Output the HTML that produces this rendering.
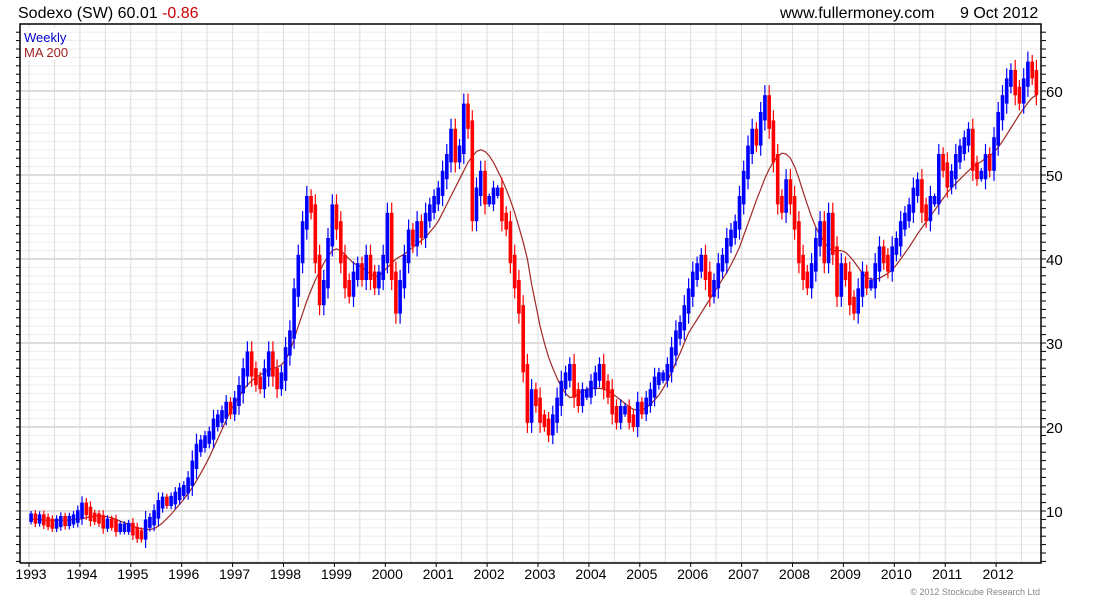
<!DOCTYPE html>
<html><head><meta charset="utf-8"><style>
body{margin:0;background:#fff;width:1100px;height:600px;overflow:hidden;font-family:"Liberation Sans",sans-serif}
svg{display:block}
</style></head><body>
<svg id="chart" width="1100" height="600">
<text x="18" y="18" font-size="16" fill="#000">Sodexo (SW) 60.01 <tspan fill="#d00000">-0.86</tspan></text>
<text x="780" y="18" font-size="16" fill="#000">www.fullermoney.com</text>
<text x="960" y="18" font-size="16" fill="#000">9 Oct 2012</text>
<text x="1040" y="595" font-size="9" fill="#888" text-anchor="end">© 2012 Stockcube Research Ltd</text>
<g id="grid"></g>
<g id="ma"></g>
<g id="bars"></g>
<g id="axes"></g>
<rect x="22" y="28" width="44" height="32" fill="#fff"/>
<text x="24" y="42" font-size="13" fill="#0000d0">Weekly</text>
<text x="24" y="57" font-size="13" fill="#a02020">MA 200</text>
</svg>
<script>
const closes = [
9.2,9.0,9.1,8.8,8.6,8.4,8.6,8.9,8.7,8.9,9.1,9.6,
10.5,10.0,9.3,9.2,9.0,8.4,8.6,8.5,8.0,8.0,8.0,8.1,
7.6,7.2,7.1,8.5,8.8,9.6,10.8,11.2,11.1,11.3,11.8,12.3,
12.6,13.5,15.5,17.5,18.0,18.5,19.0,20.5,21.0,21.5,22.5,22.0,
23,24.5,26.5,28.5,26.5,25.5,25,26.5,28.5,26.5,25,26,
29,31,36,40,44,47,46,40,35,37,42,46,
44,40,37,36,38,39,38,40,38,37,38,40,
45,38,34,37,40,43,42,44,43,45,46,47,
48,50,52,55,52,53,58,56,45,48,50,47,
47,48,48,45,44,40,37,34,27,21,24,23,
21,20.5,19.5,21,23,25,26,27,24,23,24,24,
25,26,27,25,24,22,21,22,22,21,20.5,22.5,
22,23,24,25.5,26,26,27,29,31,32,34,36,
38,39,40,38,36,37,39,40,42,43,44,47,
50,53,55,54,57,59,56,52,47,46,49,47,
44,40,38,37,39,42,44,40,45,41,36,39,
38,35,34,36,38,37,37,39,41,40,39,41,
42,44,45,46,48,49,46,45,47,47,52,51,
49,50,52,53,54,55,51,50,50,52,51,54,
57,59,61,62,60,59,61,63,62,60.01
];
const ma200 = [
9.0,9.0,9.0,8.9,8.9,8.9,8.9,8.9,8.9,8.9,9.0,9.0,
9.1,9.2,9.3,9.4,9.4,9.4,9.3,9.2,9.0,8.8,8.6,8.4,
8.2,8.0,7.9,7.8,7.8,7.9,8.2,8.6,9.1,9.6,10.2,10.8,
11.4,12.1,12.8,13.6,14.5,15.4,16.4,17.5,18.6,19.7,20.8,21.9,
22.8,23.6,24.4,25.0,25.5,25.9,26.2,26.5,26.8,27.0,27.1,27.4,
28.0,29.0,30.5,32.0,33.5,35.0,36.3,37.5,38.5,39.5,40.3,41.0,
41.2,41.0,40.5,40.0,39.5,39.3,39.0,38.6,38.2,37.9,38.0,38.5,
39,39.5,40,40.3,40.6,41,41.4,41.8,42.2,42.6,43.2,43.8,
44.5,45.5,46.5,47.5,48.5,49.5,50.5,51.5,52.2,52.8,53,52.8,
52.3,51.5,50.5,49.5,48.3,47,45.5,43.8,42,40,37,34.5,
32,30,28.3,27,25.8,24.8,24,23.5,23.6,24,24.3,24.5,
24.6,24.6,24.6,24.5,24.3,24,23.6,23.2,22.8,22.4,22.1,22,
22,22.3,22.7,23.2,23.8,24.6,25.5,26.5,27.7,28.8,30,31.2,
32.0,32.8,33.6,34.4,35.2,36.0,36.8,37.6,38.4,39.3,40.3,41.4,
42.8,44.2,45.6,47,48.3,49.6,50.7,51.6,52.2,52.6,52.5,52,
51,49.6,48,46.5,45,43.8,42.8,42,41.3,41,41,41,
40.8,40.3,39.7,39,38.3,37.8,37.6,37.6,37.7,38,38.3,38.7,
39.3,40,40.7,41.4,42.2,43,43.7,44.4,45.1,45.8,46.5,47.2,
47.9,48.5,49,49.5,50,50.5,51,51.3,51.6,52,52.3,52.7,
53.3,54,54.8,55.6,56.4,57.2,57.9,58.6,59.2,59.5
];
const yearLabels = ["1993","1994","1995","1996","1997","1998","1999","2000","2001","2002","2003","2004","2005","2006","2007","2008","2009","2010","2011","2012"];
const yTickLabels = [10,20,30,40,50,60];

const L=20,R=1041,T=24,B=563;
const NS="http://www.w3.org/2000/svg";
function xOf(t){return 29+(t-1993)*50.9;}
function xMonth(i){return xOf(1993+(i+0.5)/12);}
function yOf(v){return 511-(v-10)*8.4;}
function mk(tag,attrs,parent){const e=document.createElementNS(NS,tag);for(const k in attrs)e.setAttribute(k,attrs[k]);parent.appendChild(e);return e;}

const grid=document.getElementById('grid');
for(let v=4;v<=68;v++){
  const y=yOf(v); if(y<T||y>B) continue;
  const l=mk('line',{x1:L,x2:R,y1:y,y2:y,stroke:(v%10===0)?'#bbbbbb':'#eeeeee','stroke-width':1},grid);
  
  
}
for(let h=0;h<40;h++){
  const x=xOf(1993+h/2); if(x>R) break;
  const l=mk('line',{x1:x,x2:x,y1:T,y2:B,stroke:'#dddddd','stroke-width':1},grid);
  
  
}

const maG=document.getElementById('ma');
let d='';
ma200.forEach((v,i)=>{d+=(i?'L':'M')+xMonth(i).toFixed(1)+' '+yOf(v).toFixed(1);});
const maPath=mk('path',{d:d,fill:'none',stroke:'#a02828','stroke-width':1.2},maG);



const barsG=document.getElementById('bars');
const pad=0.5;
closes.forEach((c,i)=>{
  const prev=i?closes[i-1]:c;
  const hi=Math.max(prev,c)+pad, lo=Math.min(prev,c)-pad;
  const x=xMonth(i);
  const col=c>=prev?'#0000ff':'#ff0000';
  const ext=Math.min(1.2,Math.abs(c-prev)*0.5+0.3);
  const w=mk('line',{x1:x.toFixed(1),x2:x.toFixed(1),y1:yOf(hi+ext).toFixed(1),y2:yOf(lo-ext).toFixed(1),stroke:col,'stroke-width':1.2},barsG);
  
  
  const r=mk('rect',{x:(x-1.8).toFixed(1),y:yOf(hi).toFixed(1),width:3.6,height:(yOf(lo)-yOf(hi)).toFixed(1),fill:col},barsG);
  
  
});

const ax=document.getElementById('axes');
const frame=mk('path',{d:`M${L} ${B}L${L} ${T}L${R} ${T}L${R} ${B}L${L} ${B}`,fill:'none',stroke:'#000','stroke-width':1.5},ax);


for(let v=4;v<=68;v++){
  const y=yOf(v); if(y<T||y>B) continue;
  const t1=mk('line',{x1:R,x2:R+5,y1:y,y2:y,stroke:'#000'},ax);
  
  
  const t2=mk('line',{x1:L-4,x2:L,y1:y,y2:y,stroke:'#000'},ax);
  
  
}
yTickLabels.forEach(v=>{
  const t=mk('text',{x:1046,y:yOf(v)+6,'font-size':15,fill:'#000'},ax);
  t.textContent=String(v);
  
  
});
yearLabels.forEach((s,i)=>{
  const x=xOf(1993+i);
  const tk=mk('line',{x1:x,x2:x,y1:B,y2:B+4,stroke:'#000'},ax);
  
  
  const t=mk('text',{x:x+2,y:579,'font-size':14,fill:'#000','text-anchor':'middle'},ax);
  t.textContent=s;
  
  
});
</script>
</body></html>
